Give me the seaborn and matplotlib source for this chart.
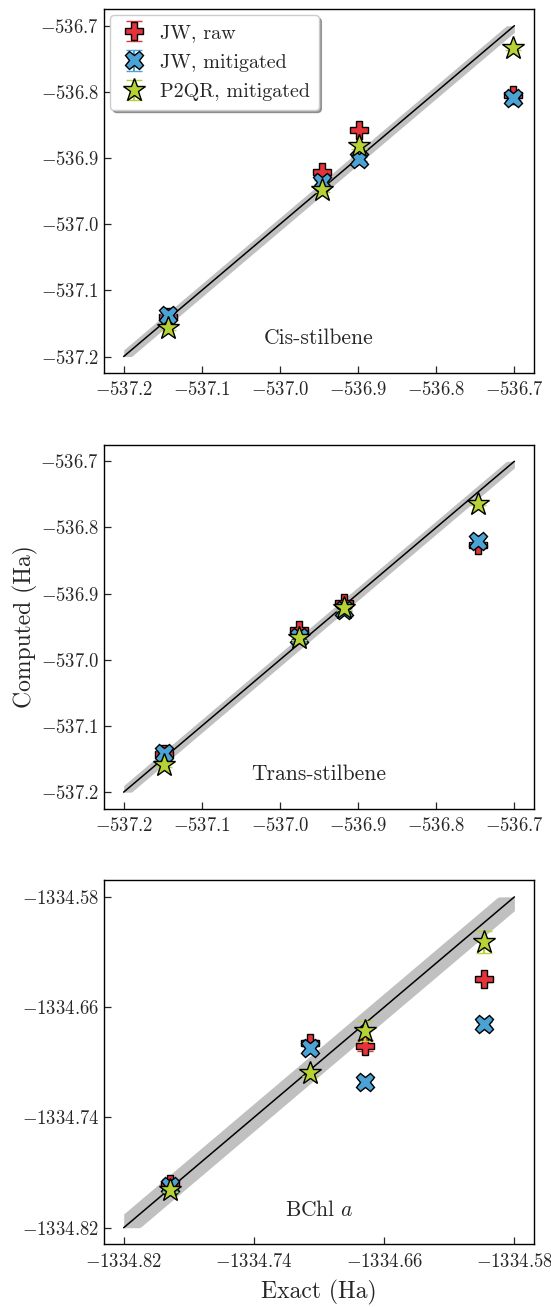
import numpy as np
import pandas as pd
import matplotlib
matplotlib.use("Agg")
import matplotlib.pyplot as plt
import seaborn as sns

sns.set_style("ticks")
plt.rcParams.update({
    "font.family": ["cmr10", "DejaVu Serif"],
    "mathtext.fontset": "cm",
    "axes.formatter.use_mathtext": True,
    "axes.unicode_minus": True,
    "xtick.direction": "in",
    "ytick.direction": "in",
    "axes.edgecolor": "black",
    "axes.linewidth": 1.0,
})

molecules = ["Cis-stilbene", "Trans-stilbene", "BChl $a$"]
series = ["JW, raw", "JW, mitigated", "P2QR, mitigated"]

# Exact energies (Ha)
exact_cis = [-537.143, -536.946, -536.899, -536.702]
exact_trans = [-537.148, -536.975, -536.918, -536.746]
exact_bchl = [-1334.7918, -1334.7056, -1334.6715, -1334.5984]

# Computed energies (Ha)
jw_raw_cis = [-537.141, -536.921, -536.857, -536.804]
jw_mit_cis = [-537.138, -536.936, -536.902, -536.810]
p2qr_mit_cis = [-537.157, -536.948, -536.882, -536.733]

jw_raw_trans = [-537.143, -536.955, -536.914, -536.827]
jw_mit_trans = [-537.141, -536.965, -536.924, -536.820]
p2qr_mit_trans = [-537.159, -536.967, -536.922, -536.764]

jw_raw_bchl = [-1334.7880, -1334.6861, -1334.6881, -1334.6398]
jw_mit_bchl = [-1334.7900, -1334.6898, -1334.7143, -1334.6724]
p2qr_mit_bchl = [-1334.7924, -1334.7078, -1334.6772, -1334.6130]

# Error bars (Ha)
err_raw_cis = [0.003, 0.003, 0.003, 0.004]
err_mit_cis = [0.003, 0.003, 0.003, 0.003]
err_p2qr_cis = [0.003, 0.003, 0.004, 0.003]
err_raw_trans = [0.003, 0.003, 0.003, 0.004]
err_mit_trans = [0.003, 0.003, 0.003, 0.004]
err_p2qr_trans = [0.003, 0.003, 0.003, 0.002]
err_raw_bchl = [0.003, 0.002, 0.004, 0.002]
err_mit_bchl = [0.003, 0.002, 0.002, 0.002]
err_p2qr_bchl = [0.002, 0.002, 0.007, 0.008]

# Diagonal ranges and band half-width (Ha)
diag_cis = [-537.2, -536.7]
diag_trans = [-537.2, -536.7]
diag_bchl = [-1334.82, -1334.58]
band_halfwidth = 0.01

xticks_cis = [-537.2, -537.1, -537.0, -536.9, -536.8, -536.7]
yticks_cis = [-537.2, -537.1, -537.0, -536.9, -536.8, -536.7]
xticks_bchl = [-1334.82, -1334.74, -1334.66, -1334.58]
yticks_bchl = [-1334.82, -1334.74, -1334.66, -1334.58]

colors = ["#e5323b", "#4ba2d5", "#b6d234"]
markers = ["P", "X", "*"]
msizes = [13, 13, 17]

panels = [
    (molecules[0], exact_cis, [jw_raw_cis, jw_mit_cis, p2qr_mit_cis],
     [err_raw_cis, err_mit_cis, err_p2qr_cis], diag_cis, xticks_cis, yticks_cis, "{:.1f}"),
    (molecules[1], exact_trans, [jw_raw_trans, jw_mit_trans, p2qr_mit_trans],
     [err_raw_trans, err_mit_trans, err_p2qr_trans], diag_trans, xticks_cis, yticks_cis, "{:.1f}"),
    (molecules[2], exact_bchl, [jw_raw_bchl, jw_mit_bchl, p2qr_mit_bchl],
     [err_raw_bchl, err_mit_bchl, err_p2qr_bchl], diag_bchl, xticks_bchl, yticks_bchl, "{:.2f}"),
]

fig, axes = plt.subplots(3, 1, figsize=(5.51, 13.07), dpi=100)
fig.subplots_adjust(left=0.189, right=0.969, top=0.993, bottom=0.048, hspace=0.197)

for i, (ax, (name, ex, comps, errs, diag, xt, yt, fmt)) in enumerate(zip(axes, panels)):
    x = np.linspace(diag[0], diag[1], 200)
    lower = np.clip(x - band_halfwidth, diag[0], diag[1])
    upper = np.clip(x + band_halfwidth, diag[0], diag[1])
    ax.fill_between(x, lower, upper, color="#c0c0c0", lw=0, zorder=1)
    df = pd.DataFrame({"x": diag, "y": diag})
    sns.lineplot(data=df, x="x", y="y", color="black", lw=1.1, ax=ax, zorder=2)
    for j, (vals, err) in enumerate(zip(comps, errs)):
        ax.errorbar(ex, vals, yerr=err, fmt=markers[j], color=colors[j],
                    markerfacecolor=colors[j], markeredgecolor="black",
                    markeredgewidth=1.0, markersize=msizes[j], ecolor=colors[j],
                    elinewidth=1.5, capsize=6, capthick=1.5, label=series[j],
                    zorder=3 + j)
    ax.set_xticks(xt)
    ax.set_yticks(yt)
    ax.set_xticklabels(["$-$" + fmt.format(abs(v)) for v in xt])
    ax.set_yticklabels(["$-$" + fmt.format(abs(v)) for v in yt])
    ax.tick_params(labelsize=13.5, length=5, width=0.9, top=False, right=False)
    ax.tick_params(axis="x", pad=6)
    ax.set_xlabel("")
    ax.set_ylabel("")
    ax.text(0.5, 0.095, name, transform=ax.transAxes, ha="center", va="center",
            fontsize=15.5)
    for s in ax.spines.values():
        s.set_visible(True)
        s.set_linewidth(1.0)

leg = axes[0].legend(loc="upper left", fontsize=14.5, frameon=True, fancybox=True,
                     shadow=True, framealpha=1, borderpad=0.45, handletextpad=0.5,
                     labelspacing=0.55, borderaxespad=0.3, handlelength=1.5)
leg.get_frame().set_edgecolor("#cccccc")

axes[1].set_ylabel("Computed (Ha)", fontsize=17)
axes[1].yaxis.set_label_coords(-0.155, 0.5)
axes[2].set_xlabel("Exact (Ha)", fontsize=17, labelpad=7)

fig.savefig("out.png", dpi=100)
